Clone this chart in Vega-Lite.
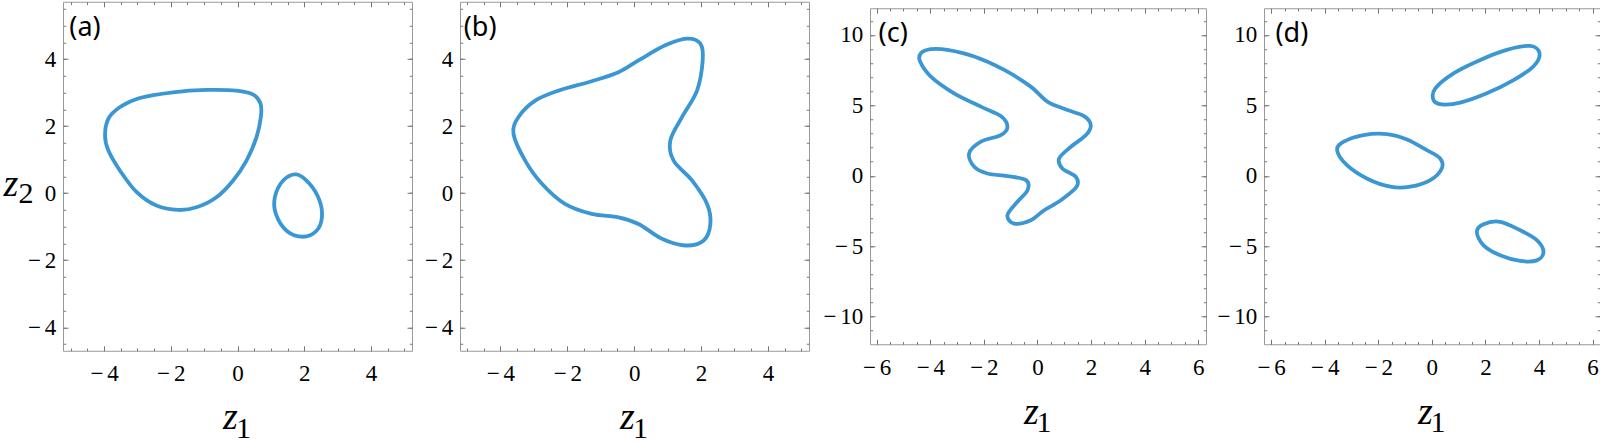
{
  "$schema": "https://vega.github.io/schema/vega-lite/v6.json",
  "autosize": {"type": "pad"},
  "padding": {"left": 2, "top": 0.5, "right": 0, "bottom": 0},
  "spacing": 4,
  "center": true,
  "config": {
    "view": {"stroke": "#999999", "strokeWidth": 1},
    "axis": {"grid": false, "domain": false, "tickColor": "#777777", "tickWidth": 1, "labelOverlap": false, "labelFlush": false, "titleColor": "#000000", "titleFontWeight": "normal"},
    "text": {"font": "Noto Sans, Open Sans, sans-serif", "fontSize": 27, "color": "#000000", "align": "left", "baseline": "top"}
  },
  "datasets": {
    "a": [
      {"c":1,"i":0,"x":-3.97,"y":1.72},{"c":1,"i":1,"x":-3.87,"y":2.22},{"c":1,"i":2,"x":-3.52,"y":2.57},{"c":1,"i":3,"x":-2.93,"y":2.84},{"c":1,"i":4,"x":-1.93,"y":3.01},{"c":1,"i":5,"x":-0.93,"y":3.08},{"c":1,"i":6,"x":-0.03,"y":3.06},{"c":1,"i":7,"x":0.47,"y":2.94},{"c":1,"i":8,"x":0.69,"y":2.67},{"c":1,"i":9,"x":0.70,"y":2.27},{"c":1,"i":10,"x":0.57,"y":1.67},{"c":1,"i":11,"x":0.27,"y":0.97},{"c":1,"i":12,"x":-0.13,"y":0.38},{"c":1,"i":13,"x":-0.63,"y":-0.12},{"c":1,"i":14,"x":-1.23,"y":-0.42},{"c":1,"i":15,"x":-1.78,"y":-0.50},{"c":1,"i":16,"x":-2.43,"y":-0.37},{"c":1,"i":17,"x":-3.02,"y":0.03},{"c":1,"i":18,"x":-3.52,"y":0.67},{"c":1,"i":19,"x":-3.87,"y":1.27},
      {"c":2,"i":0,"x":1.77,"y":0.56},{"c":2,"i":1,"x":1.37,"y":0.38},{"c":2,"i":2,"x":1.12,"y":-0.12},{"c":2,"i":3,"x":1.15,"y":-0.62},{"c":2,"i":4,"x":1.47,"y":-1.12},{"c":2,"i":5,"x":1.96,"y":-1.30},{"c":2,"i":6,"x":2.37,"y":-1.12},{"c":2,"i":7,"x":2.53,"y":-0.72},{"c":2,"i":8,"x":2.46,"y":-0.22},{"c":2,"i":9,"x":2.16,"y":0.28}
    ],
    "b": [
      {"c":1,"i":0,"x":-3.61,"y":1.77},{"c":1,"i":1,"x":-3.46,"y":2.27},{"c":1,"i":2,"x":-2.96,"y":2.76},{"c":1,"i":3,"x":-2.26,"y":3.06},{"c":1,"i":4,"x":-1.27,"y":3.34},{"c":1,"i":5,"x":-0.47,"y":3.61},{"c":1,"i":6,"x":0.13,"y":3.96},{"c":1,"i":7,"x":0.93,"y":4.41},{"c":1,"i":8,"x":1.58,"y":4.61},{"c":1,"i":9,"x":1.98,"y":4.46},{"c":1,"i":10,"x":2.05,"y":3.96},{"c":1,"i":11,"x":1.88,"y":3.06},{"c":1,"i":12,"x":1.43,"y":2.27},{"c":1,"i":13,"x":1.08,"y":1.57},{"c":1,"i":14,"x":1.18,"y":0.97},{"c":1,"i":15,"x":1.73,"y":0.38},{"c":1,"i":16,"x":2.18,"y":-0.32},{"c":1,"i":17,"x":2.28,"y":-0.92},{"c":1,"i":18,"x":2.08,"y":-1.41},{"c":1,"i":19,"x":1.53,"y":-1.56},{"c":1,"i":20,"x":0.83,"y":-1.36},{"c":1,"i":21,"x":0.13,"y":-0.92},{"c":1,"i":22,"x":-0.47,"y":-0.72},{"c":1,"i":23,"x":-1.27,"y":-0.62},{"c":1,"i":24,"x":-2.07,"y":-0.32},{"c":1,"i":25,"x":-2.76,"y":0.28},{"c":1,"i":26,"x":-3.26,"y":0.97}
    ],
    "c": [
      {"c":1,"i":0,"x":-4.35,"y":8.70},{"c":1,"i":1,"x":-3.98,"y":8.99},{"c":1,"i":2,"x":-3.36,"y":8.94},{"c":1,"i":3,"x":-2.36,"y":8.47},{"c":1,"i":4,"x":-1.24,"y":7.52},{"c":1,"i":5,"x":-0.25,"y":6.33},{"c":1,"i":6,"x":0.37,"y":5.27},{"c":1,"i":7,"x":1.12,"y":4.67},{"c":1,"i":8,"x":1.74,"y":4.24},{"c":1,"i":9,"x":1.99,"y":3.60},{"c":1,"i":10,"x":1.81,"y":2.89},{"c":1,"i":11,"x":1.25,"y":2.06},{"c":1,"i":12,"x":0.81,"y":1.23},{"c":1,"i":13,"x":0.93,"y":0.52},{"c":1,"i":14,"x":1.43,"y":-0.07},{"c":1,"i":15,"x":1.46,"y":-0.78},{"c":1,"i":16,"x":0.87,"y":-1.74},{"c":1,"i":17,"x":0.25,"y":-2.45},{"c":1,"i":18,"x":-0.25,"y":-3.16},{"c":1,"i":19,"x":-0.87,"y":-3.40},{"c":1,"i":20,"x":-1.12,"y":-2.80},{"c":1,"i":21,"x":-0.75,"y":-1.85},{"c":1,"i":22,"x":-0.37,"y":-1.02},{"c":1,"i":23,"x":-0.43,"y":-0.31},{"c":1,"i":24,"x":-1.12,"y":-0.03},{"c":1,"i":25,"x":-1.87,"y":0.16},{"c":1,"i":26,"x":-2.36,"y":0.64},{"c":1,"i":27,"x":-2.55,"y":1.59},{"c":1,"i":28,"x":-2.11,"y":2.42},{"c":1,"i":29,"x":-1.37,"y":2.89},{"c":1,"i":30,"x":-1.12,"y":3.49},{"c":1,"i":31,"x":-1.37,"y":4.24},{"c":1,"i":32,"x":-2.11,"y":4.91},{"c":1,"i":33,"x":-3.11,"y":5.86},{"c":1,"i":34,"x":-3.98,"y":7.05},{"c":1,"i":35,"x":-4.38,"y":8.11}
    ],
    "d": [
      {"c":1,"i":0,"x":0.06,"y":5.38},{"c":1,"i":1,"x":0.13,"y":6.21},{"c":1,"i":2,"x":0.81,"y":7.28},{"c":1,"i":3,"x":1.81,"y":8.23},{"c":1,"i":4,"x":2.80,"y":8.94},{"c":1,"i":5,"x":3.67,"y":9.22},{"c":1,"i":6,"x":4.02,"y":8.70},{"c":1,"i":7,"x":3.79,"y":7.76},{"c":1,"i":8,"x":3.05,"y":6.80},{"c":1,"i":9,"x":2.05,"y":5.86},{"c":1,"i":10,"x":1.06,"y":5.20},{"c":1,"i":11,"x":0.37,"y":5.07},
      {"c":2,"i":0,"x":-3.54,"y":1.82},{"c":2,"i":1,"x":-3.29,"y":2.42},{"c":2,"i":2,"x":-2.55,"y":2.89},{"c":2,"i":3,"x":-1.68,"y":2.96},{"c":2,"i":4,"x":-0.93,"y":2.58},{"c":2,"i":5,"x":-0.19,"y":1.82},{"c":2,"i":6,"x":0.31,"y":1.23},{"c":2,"i":7,"x":0.37,"y":0.52},{"c":2,"i":8,"x":-0.06,"y":-0.31},{"c":2,"i":9,"x":-0.81,"y":-0.78},{"c":2,"i":10,"x":-1.55,"y":-0.78},{"c":2,"i":11,"x":-2.43,"y":-0.19},{"c":2,"i":12,"x":-3.17,"y":0.75},
      {"c":3,"i":0,"x":1.68,"y":-3.99},{"c":3,"i":1,"x":1.93,"y":-3.44},{"c":3,"i":2,"x":2.55,"y":-3.27},{"c":3,"i":3,"x":3.30,"y":-3.87},{"c":3,"i":4,"x":3.92,"y":-4.58},{"c":3,"i":5,"x":4.17,"y":-5.41},{"c":3,"i":6,"x":3.92,"y":-6.01},{"c":3,"i":7,"x":3.30,"y":-6.05},{"c":3,"i":8,"x":2.55,"y":-5.65},{"c":3,"i":9,"x":1.93,"y":-4.94}
    ]
  },
  "hconcat": [
    {
      "width": 349, "height": 349,
      "data": {"name": "a"},
      "resolve": {"axis": {"x": "independent", "y": "independent"}},
      "layer": [
        {"mark": {"type": "line", "interpolate": "cardinal-closed", "color": "#3b97d3", "strokeWidth": 3.8, "strokeJoin": "round"},
         "encoding": {
           "x": {"field": "x", "type": "quantitative", "scale": {"domain": [-5.23, 5.23], "nice": false, "zero": false}, "axis": {"orient": "bottom", "values": [-4,-2,0,2,4], "format": "d", "labelExpr": "replace(datum.label, '\u2212', '\u2212\u2006')", "tickSize": -5, "labelPadding": 17, "labelFont": "Liberation Serif, DejaVu Serif, serif", "labelFontSize": 23, "labelColor": "#000000", "title": "z", "titleFont": "Liberation Serif, DejaVu Serif, serif", "titleFontStyle": "italic", "titleFontSize": 38, "titleAlign": "left", "titleBaseline": "alphabetic", "titleX": 159.5, "titleY": 78}},
           "y": {"field": "y", "type": "quantitative", "scale": {"domain": [-4.7, 5.71], "nice": false, "zero": false}, "axis": {"orient": "left", "values": [-4,-2,0,2,4], "format": "d", "labelExpr": "replace(datum.label, '\u2212', '\u2212\u2006')", "tickSize": -5, "labelPadding": 12.3, "labelFont": "Liberation Serif, DejaVu Serif, serif", "labelFontSize": 23, "labelColor": "#000000", "minExtent": 60, "title": "z", "titleFont": "Liberation Serif, DejaVu Serif, serif", "titleFontStyle": "italic", "titleFontSize": 38, "titleAngle": 0, "titleAlign": "left", "titleBaseline": "alphabetic", "titleX": -60, "titleY": 194}},
           "detail": {"field": "c"},
           "order": {"field": "i"}
         }},
        {"mark": {"type": "point", "opacity": 0},
         "encoding": {
           "x": {"field": "x", "type": "quantitative", "scale": {"domain": [-5.23, 5.23], "nice": false, "zero": false}, "axis": {"orient": "top", "values": [-4,-2,0,2,4], "tickSize": -5, "labels": false, "title": null, "minExtent": 0, "maxExtent": 0}},
           "y": {"field": "y", "type": "quantitative", "scale": {"domain": [-4.7, 5.71], "nice": false, "zero": false}, "axis": {"orient": "right", "values": [-4,-2,0,2,4], "tickSize": -5, "labels": false, "title": null, "minExtent": 0, "maxExtent": 0}}
         }},
        {"mark": {"type": "point", "opacity": 0},
         "encoding": {
           "x": {"field": "x", "type": "quantitative", "scale": {"domain": [-5.23, 5.23], "nice": false, "zero": false}, "axis": {"orient": "bottom", "values": [-5,-4.5,-4,-3.5,-3,-2.5,-2,-1.5,-1,-0.5,0,0.5,1,1.5,2,2.5,3,3.5,4,4.5,5], "tickSize": -2.7, "labels": false, "title": "1", "titleFont": "Liberation Serif, DejaVu Serif, serif", "titleFontSize": 30, "titleAlign": "left", "titleBaseline": "alphabetic", "titleX": 172.5, "titleY": 87}},
           "y": {"field": "y", "type": "quantitative", "scale": {"domain": [-4.7, 5.71], "nice": false, "zero": false}, "axis": {"orient": "left", "values": [-4.5,-4,-3.5,-3,-2.5,-2,-1.5,-1,-0.5,0,0.5,1,1.5,2,2.5,3,3.5,4,4.5,5,5.5], "tickSize": -2.7, "labels": false, "title": "2", "titleFont": "Liberation Serif, DejaVu Serif, serif", "titleFontSize": 30, "titleAngle": 0, "titleAlign": "left", "titleBaseline": "alphabetic", "titleX": -45, "titleY": 201}}
         }},
        {"mark": {"type": "point", "opacity": 0},
         "encoding": {
           "x": {"field": "x", "type": "quantitative", "scale": {"domain": [-5.23, 5.23], "nice": false, "zero": false}, "axis": {"orient": "top", "values": [-5,-4.5,-4,-3.5,-3,-2.5,-2,-1.5,-1,-0.5,0,0.5,1,1.5,2,2.5,3,3.5,4,4.5,5], "tickSize": -2.7, "labels": false, "title": null, "minExtent": 0, "maxExtent": 0}},
           "y": {"field": "y", "type": "quantitative", "scale": {"domain": [-4.7, 5.71], "nice": false, "zero": false}, "axis": {"orient": "right", "values": [-4.5,-4,-3.5,-3,-2.5,-2,-1.5,-1,-0.5,0,0.5,1,1.5,2,2.5,3,3.5,4,4.5,5,5.5], "tickSize": -2.7, "labels": false, "title": null, "minExtent": 0, "maxExtent": 0}}
         }},
        {"data": {"values": [{"label": "(a)"}]},
         "mark": {"type": "text"},
         "encoding": {
           "x": {"datum": -5.04, "type": "quantitative", "scale": {"domain": [-5.23, 5.23], "nice": false, "zero": false}, "axis": null},
           "y": {"datum": 5.3, "type": "quantitative", "scale": {"domain": [-4.7, 5.71], "nice": false, "zero": false}, "axis": null},
           "text": {"field": "label"}
         }}
      ]
    },
    {
      "width": 349, "height": 349,
      "data": {"name": "b"},
      "resolve": {"axis": {"x": "independent", "y": "independent"}},
      "layer": [
        {"mark": {"type": "line", "interpolate": "cardinal-closed", "color": "#3b97d3", "strokeWidth": 3.8, "strokeJoin": "round"},
         "encoding": {
           "x": {"field": "x", "type": "quantitative", "scale": {"domain": [-5.21, 5.23], "nice": false, "zero": false}, "axis": {"orient": "bottom", "values": [-4,-2,0,2,4], "format": "d", "labelExpr": "replace(datum.label, '\u2212', '\u2212\u2006')", "tickSize": -5, "labelPadding": 17, "labelFont": "Liberation Serif, DejaVu Serif, serif", "labelFontSize": 23, "labelColor": "#000000", "title": "z", "titleFont": "Liberation Serif, DejaVu Serif, serif", "titleFontStyle": "italic", "titleFontSize": 38, "titleAlign": "left", "titleBaseline": "alphabetic", "titleX": 159.5, "titleY": 78}},
           "y": {"field": "y", "type": "quantitative", "scale": {"domain": [-4.7, 5.71], "nice": false, "zero": false}, "axis": {"orient": "left", "values": [-4,-2,0,2,4], "format": "d", "labelExpr": "replace(datum.label, '\u2212', '\u2212\u2006')", "tickSize": -5, "labelPadding": 12.3, "labelFont": "Liberation Serif, DejaVu Serif, serif", "labelFontSize": 23, "labelColor": "#000000", "minExtent": 42, "title": null}},
           "detail": {"field": "c"},
           "order": {"field": "i"}
         }},
        {"mark": {"type": "point", "opacity": 0},
         "encoding": {
           "x": {"field": "x", "type": "quantitative", "scale": {"domain": [-5.21, 5.23], "nice": false, "zero": false}, "axis": {"orient": "top", "values": [-4,-2,0,2,4], "tickSize": -5, "labels": false, "title": null, "minExtent": 0, "maxExtent": 0}},
           "y": {"field": "y", "type": "quantitative", "scale": {"domain": [-4.7, 5.71], "nice": false, "zero": false}, "axis": {"orient": "right", "values": [-4,-2,0,2,4], "tickSize": -5, "labels": false, "title": null, "minExtent": 0, "maxExtent": 0}}
         }},
        {"mark": {"type": "point", "opacity": 0},
         "encoding": {
           "x": {"field": "x", "type": "quantitative", "scale": {"domain": [-5.21, 5.23], "nice": false, "zero": false}, "axis": {"orient": "bottom", "values": [-5,-4.5,-4,-3.5,-3,-2.5,-2,-1.5,-1,-0.5,0,0.5,1,1.5,2,2.5,3,3.5,4,4.5,5], "tickSize": -2.7, "labels": false, "title": "1", "titleFont": "Liberation Serif, DejaVu Serif, serif", "titleFontSize": 30, "titleAlign": "left", "titleBaseline": "alphabetic", "titleX": 172.5, "titleY": 87}},
           "y": {"field": "y", "type": "quantitative", "scale": {"domain": [-4.7, 5.71], "nice": false, "zero": false}, "axis": {"orient": "left", "values": [-4.5,-4,-3.5,-3,-2.5,-2,-1.5,-1,-0.5,0,0.5,1,1.5,2,2.5,3,3.5,4,4.5,5,5.5], "tickSize": -2.7, "labels": false, "title": null}}
         }},
        {"mark": {"type": "point", "opacity": 0},
         "encoding": {
           "x": {"field": "x", "type": "quantitative", "scale": {"domain": [-5.21, 5.23], "nice": false, "zero": false}, "axis": {"orient": "top", "values": [-5,-4.5,-4,-3.5,-3,-2.5,-2,-1.5,-1,-0.5,0,0.5,1,1.5,2,2.5,3,3.5,4,4.5,5], "tickSize": -2.7, "labels": false, "title": null, "minExtent": 0, "maxExtent": 0}},
           "y": {"field": "y", "type": "quantitative", "scale": {"domain": [-4.7, 5.71], "nice": false, "zero": false}, "axis": {"orient": "right", "values": [-4.5,-4,-3.5,-3,-2.5,-2,-1.5,-1,-0.5,0,0.5,1,1.5,2,2.5,3,3.5,4,4.5,5,5.5], "tickSize": -2.7, "labels": false, "title": null, "minExtent": 0, "maxExtent": 0}}
         }},
        {"data": {"values": [{"label": "(b)"}]},
         "mark": {"type": "text"},
         "encoding": {
           "x": {"datum": -5.1, "type": "quantitative", "scale": {"domain": [-5.21, 5.23], "nice": false, "zero": false}, "axis": null},
           "y": {"datum": 5.3, "type": "quantitative", "scale": {"domain": [-4.7, 5.71], "nice": false, "zero": false}, "axis": null},
           "text": {"field": "label"}
         }}
      ]
    },
    {
      "width": 336, "height": 336,
      "data": {"name": "c"},
      "resolve": {"axis": {"x": "independent", "y": "independent"}},
      "layer": [
        {"mark": {"type": "line", "interpolate": "cardinal-closed", "color": "#3b97d3", "strokeWidth": 3.8, "strokeJoin": "round"},
         "encoding": {
           "x": {"field": "x", "type": "quantitative", "scale": {"domain": [-6.25, 6.29], "nice": false, "zero": false}, "axis": {"orient": "bottom", "values": [-6,-4,-2,0,2,4,6], "format": "d", "labelExpr": "replace(datum.label, '\u2212', '\u2212\u2006')", "tickSize": -5, "labelPadding": 17, "labelFont": "Liberation Serif, DejaVu Serif, serif", "labelFontSize": 23, "labelColor": "#000000", "title": "z", "titleFont": "Liberation Serif, DejaVu Serif, serif", "titleFontStyle": "italic", "titleFontSize": 38, "titleAlign": "left", "titleBaseline": "alphabetic", "titleX": 153.6, "titleY": 79}},
           "y": {"field": "y", "type": "quantitative", "scale": {"domain": [-11.97, 11.9], "nice": false, "zero": false}, "axis": {"orient": "left", "values": [-10,-5,0,5,10], "format": "d", "labelExpr": "replace(datum.label, '\u2212', '\u2212\u2006')", "tickSize": -5, "labelPadding": 12.3, "labelFont": "Liberation Serif, DejaVu Serif, serif", "labelFontSize": 23, "labelColor": "#000000", "minExtent": 55, "title": null}},
           "detail": {"field": "c"},
           "order": {"field": "i"}
         }},
        {"mark": {"type": "point", "opacity": 0},
         "encoding": {
           "x": {"field": "x", "type": "quantitative", "scale": {"domain": [-6.25, 6.29], "nice": false, "zero": false}, "axis": {"orient": "top", "values": [-6,-4,-2,0,2,4,6], "tickSize": -5, "labels": false, "title": null, "minExtent": 0, "maxExtent": 0}},
           "y": {"field": "y", "type": "quantitative", "scale": {"domain": [-11.97, 11.9], "nice": false, "zero": false}, "axis": {"orient": "right", "values": [-10,-5,0,5,10], "tickSize": -5, "labels": false, "title": null, "minExtent": 0, "maxExtent": 0}}
         }},
        {"mark": {"type": "point", "opacity": 0},
         "encoding": {
           "x": {"field": "x", "type": "quantitative", "scale": {"domain": [-6.25, 6.29], "nice": false, "zero": false}, "axis": {"orient": "bottom", "values": [-6,-5.5,-5,-4.5,-4,-3.5,-3,-2.5,-2,-1.5,-1,-0.5,0,0.5,1,1.5,2,2.5,3,3.5,4,4.5,5,5.5,6], "tickSize": -2.7, "labels": false, "title": "1", "titleFont": "Liberation Serif, DejaVu Serif, serif", "titleFontSize": 30, "titleAlign": "left", "titleBaseline": "alphabetic", "titleX": 166, "titleY": 87}},
           "y": {"field": "y", "type": "quantitative", "scale": {"domain": [-11.97, 11.9], "nice": false, "zero": false}, "axis": {"orient": "left", "values": [-11,-10,-9,-8,-7,-6,-5,-4,-3,-2,-1,0,1,2,3,4,5,6,7,8,9,10,11], "tickSize": -2.7, "labels": false, "title": null}}
         }},
        {"mark": {"type": "point", "opacity": 0},
         "encoding": {
           "x": {"field": "x", "type": "quantitative", "scale": {"domain": [-6.25, 6.29], "nice": false, "zero": false}, "axis": {"orient": "top", "values": [-6,-5.5,-5,-4.5,-4,-3.5,-3,-2.5,-2,-1.5,-1,-0.5,0,0.5,1,1.5,2,2.5,3,3.5,4,4.5,5,5.5,6], "tickSize": -2.7, "labels": false, "title": null, "minExtent": 0, "maxExtent": 0}},
           "y": {"field": "y", "type": "quantitative", "scale": {"domain": [-11.97, 11.9], "nice": false, "zero": false}, "axis": {"orient": "right", "values": [-11,-10,-9,-8,-7,-6,-5,-4,-3,-2,-1,0,1,2,3,4,5,6,7,8,9,10,11], "tickSize": -2.7, "labels": false, "title": null, "minExtent": 0, "maxExtent": 0}}
         }},
        {"data": {"values": [{"label": "(c)"}]},
         "mark": {"type": "text"},
         "encoding": {
           "x": {"datum": -5.93, "type": "quantitative", "scale": {"domain": [-6.25, 6.29], "nice": false, "zero": false}, "axis": null},
           "y": {"datum": 11.0, "type": "quantitative", "scale": {"domain": [-11.97, 11.9], "nice": false, "zero": false}, "axis": null},
           "text": {"field": "label"}
         }}
      ]
    },
    {
      "width": 336, "height": 336,
      "data": {"name": "d"},
      "resolve": {"axis": {"x": "independent", "y": "independent"}},
      "layer": [
        {"mark": {"type": "line", "interpolate": "cardinal-closed", "color": "#3b97d3", "strokeWidth": 3.8, "strokeJoin": "round"},
         "encoding": {
           "x": {"field": "x", "type": "quantitative", "scale": {"domain": [-6.27, 6.28], "nice": false, "zero": false}, "axis": {"orient": "bottom", "values": [-6,-4,-2,0,2,4,6], "format": "d", "labelExpr": "replace(datum.label, '\u2212', '\u2212\u2006')", "tickSize": -5, "labelPadding": 17, "labelFont": "Liberation Serif, DejaVu Serif, serif", "labelFontSize": 23, "labelColor": "#000000", "title": "z", "titleFont": "Liberation Serif, DejaVu Serif, serif", "titleFontStyle": "italic", "titleFontSize": 38, "titleAlign": "left", "titleBaseline": "alphabetic", "titleX": 153.6, "titleY": 79}},
           "y": {"field": "y", "type": "quantitative", "scale": {"domain": [-11.97, 11.9], "nice": false, "zero": false}, "axis": {"orient": "left", "values": [-10,-5,0,5,10], "format": "d", "labelExpr": "replace(datum.label, '\u2212', '\u2212\u2006')", "tickSize": -5, "labelPadding": 12.3, "labelFont": "Liberation Serif, DejaVu Serif, serif", "labelFontSize": 23, "labelColor": "#000000", "minExtent": 52, "title": null}},
           "detail": {"field": "c"},
           "order": {"field": "i"}
         }},
        {"mark": {"type": "point", "opacity": 0},
         "encoding": {
           "x": {"field": "x", "type": "quantitative", "scale": {"domain": [-6.27, 6.28], "nice": false, "zero": false}, "axis": {"orient": "top", "values": [-6,-4,-2,0,2,4,6], "tickSize": -5, "labels": false, "title": null, "minExtent": 0, "maxExtent": 0}},
           "y": {"field": "y", "type": "quantitative", "scale": {"domain": [-11.97, 11.9], "nice": false, "zero": false}, "axis": {"orient": "right", "values": [-10,-5,0,5,10], "tickSize": -5, "labels": false, "title": null, "minExtent": 0, "maxExtent": 0}}
         }},
        {"mark": {"type": "point", "opacity": 0},
         "encoding": {
           "x": {"field": "x", "type": "quantitative", "scale": {"domain": [-6.27, 6.28], "nice": false, "zero": false}, "axis": {"orient": "bottom", "values": [-6,-5.5,-5,-4.5,-4,-3.5,-3,-2.5,-2,-1.5,-1,-0.5,0,0.5,1,1.5,2,2.5,3,3.5,4,4.5,5,5.5,6], "tickSize": -2.7, "labels": false, "title": "1", "titleFont": "Liberation Serif, DejaVu Serif, serif", "titleFontSize": 30, "titleAlign": "left", "titleBaseline": "alphabetic", "titleX": 166, "titleY": 87}},
           "y": {"field": "y", "type": "quantitative", "scale": {"domain": [-11.97, 11.9], "nice": false, "zero": false}, "axis": {"orient": "left", "values": [-11,-10,-9,-8,-7,-6,-5,-4,-3,-2,-1,0,1,2,3,4,5,6,7,8,9,10,11], "tickSize": -2.7, "labels": false, "title": null}}
         }},
        {"mark": {"type": "point", "opacity": 0},
         "encoding": {
           "x": {"field": "x", "type": "quantitative", "scale": {"domain": [-6.27, 6.28], "nice": false, "zero": false}, "axis": {"orient": "top", "values": [-6,-5.5,-5,-4.5,-4,-3.5,-3,-2.5,-2,-1.5,-1,-0.5,0,0.5,1,1.5,2,2.5,3,3.5,4,4.5,5,5.5,6], "tickSize": -2.7, "labels": false, "title": null, "minExtent": 0, "maxExtent": 0}},
           "y": {"field": "y", "type": "quantitative", "scale": {"domain": [-11.97, 11.9], "nice": false, "zero": false}, "axis": {"orient": "right", "values": [-11,-10,-9,-8,-7,-6,-5,-4,-3,-2,-1,0,1,2,3,4,5,6,7,8,9,10,11], "tickSize": -2.7, "labels": false, "title": null, "minExtent": 0, "maxExtent": 0}}
         }},
        {"data": {"values": [{"label": "(d)"}]},
         "mark": {"type": "text"},
         "encoding": {
           "x": {"datum": -5.84, "type": "quantitative", "scale": {"domain": [-6.27, 6.28], "nice": false, "zero": false}, "axis": null},
           "y": {"datum": 11.0, "type": "quantitative", "scale": {"domain": [-11.97, 11.9], "nice": false, "zero": false}, "axis": null},
           "text": {"field": "label"}
         }}
      ]
    }
  ]
}
